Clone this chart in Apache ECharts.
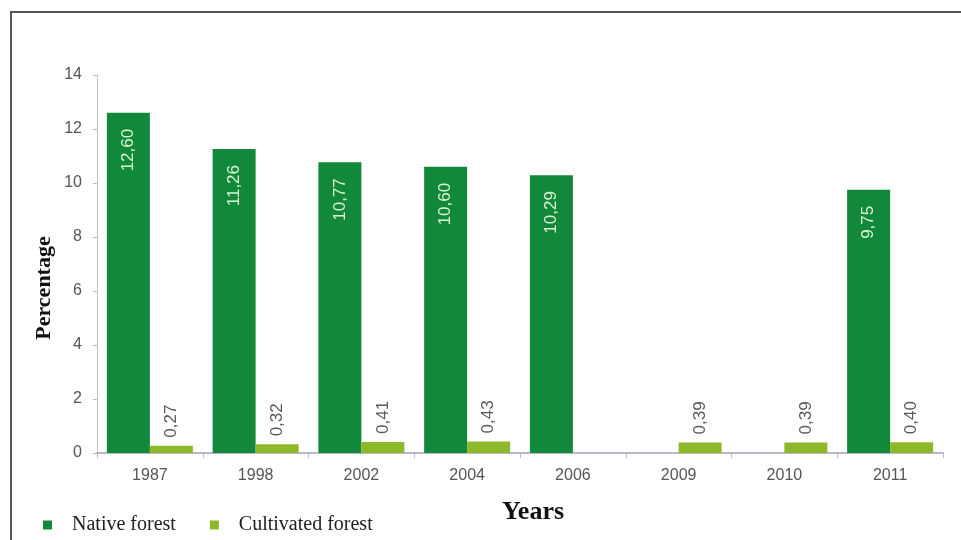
<!DOCTYPE html>
<html>
<head>
<meta charset="utf-8">
<script src="https://cdn.jsdelivr.net/npm/echarts@6/dist/echarts.min.js"></script>
<style>
  html, body { margin: 0; padding: 0; background: #ffffff; }
  #chart { width: 961px; height: 540px; }
</style>
</head>
<body>
<div id="chart"></div>
<script>
// Forest cover share by survey year
const years = ['1987', '1998', '2002', '2004', '2006', '2009', '2010', '2011'];
const nativeForest = [12.60, 11.26, 10.77, 10.60, 10.29, null, null, 9.75];
const cultivatedForest = [0.27, 0.32, 0.41, 0.43, null, 0.39, 0.39, 0.40];
const yTicks = [0, 2, 4, 6, 8, 10, 12, 14];

const NATIVE = '#12893a';
const CULTIVATED = '#8cb82a';
const SANS = 'Liberation Sans, Arial, sans-serif';
const SERIF = 'Liberation Serif, Times New Roman, serif';
const comma = v => v.toFixed(2).replace('.', ',');

const chart = echarts.init(document.getElementById('chart'), null, { renderer: 'canvas' });

chart.setOption({
  backgroundColor: '#ffffff',
  animation: false,
  grid: { left: 97, right: 18, top: 75, bottom: 87, containLabel: false },
  legend: {
    left: 38,
    top: 510,
    itemWidth: 9,
    itemHeight: 9,
    itemGap: 34,
    icon: 'rect',
    data: ['Native forest', 'Cultivated forest'],
    textStyle: {
      fontFamily: SERIF,
      fontSize: 20,
      color: '#222222',
      padding: [0, 0, 0, 15]
    }
  },
  xAxis: {
    type: 'category',
    data: years,
    axisLine: { lineStyle: { color: '#b8b8c8', width: 2 } },
    axisTick: { show: true, alignWithLabel: false, length: 5, lineStyle: { color: '#b8b8c8' } },
    axisLabel: {
      margin: 15,
      fontFamily: SANS,
      fontSize: 16,
      color: '#555555'
    }
  },
  yAxis: {
    type: 'value',
    min: 0,
    max: 14,
    interval: 2,
    splitLine: { show: false },
    axisLine: { show: true, lineStyle: { color: '#c4c4d0', width: 1 } },
    axisTick: { show: true, length: 4, lineStyle: { color: '#b8b8c8' } },
    axisLabel: {
      margin: 15,
      fontFamily: SANS,
      fontSize: 16,
      color: '#555555',
      formatter: v => (yTicks.includes(v) ? String(v) : '')
    }
  },
  series: [
    {
      name: 'Native forest',
      type: 'bar',
      data: nativeForest,
      barWidth: 43,
      barGap: '0%',
      itemStyle: { color: NATIVE },
      label: {
        show: true,
        position: 'insideTop',
        rotate: 90,
        align: 'right',
        verticalAlign: 'middle',
        distance: 16,
        fontFamily: SANS,
        fontSize: 17,
        color: '#d9f2d4',
        formatter: p => comma(p.value)
      }
    },
    {
      name: 'Cultivated forest',
      type: 'bar',
      data: cultivatedForest,
      barWidth: 43,
      itemStyle: { color: CULTIVATED },
      label: {
        show: true,
        position: 'top',
        rotate: 90,
        align: 'left',
        verticalAlign: 'middle',
        distance: 8,
        fontFamily: SANS,
        fontSize: 17,
        color: '#5a5a5a',
        formatter: p => comma(p.value)
      }
    }
  ],
  graphic: [
    {
      type: 'text',
      x: 44,
      y: 288,
      rotation: Math.PI / 2,
      style: {
        text: 'Percentage',
        font: 'bold 22px "Liberation Serif", "Times New Roman", serif',
        fill: '#111111',
        align: 'center',
        verticalAlign: 'middle'
      }
    },
    {
      type: 'text',
      x: 533,
      y: 512,
      style: {
        text: 'Years',
        font: 'bold 26px "Liberation Serif", "Times New Roman", serif',
        fill: '#111111',
        align: 'center',
        verticalAlign: 'middle'
      }
    },
    {
      type: 'line',
      shape: { x1: 10, y1: 12, x2: 961, y2: 12 },
      style: { stroke: '#555555', lineWidth: 2 }
    },
    {
      type: 'line',
      shape: { x1: 11, y1: 12, x2: 11, y2: 540 },
      style: { stroke: '#555555', lineWidth: 2 }
    }
  ]
});
</script>
</body>
</html>
